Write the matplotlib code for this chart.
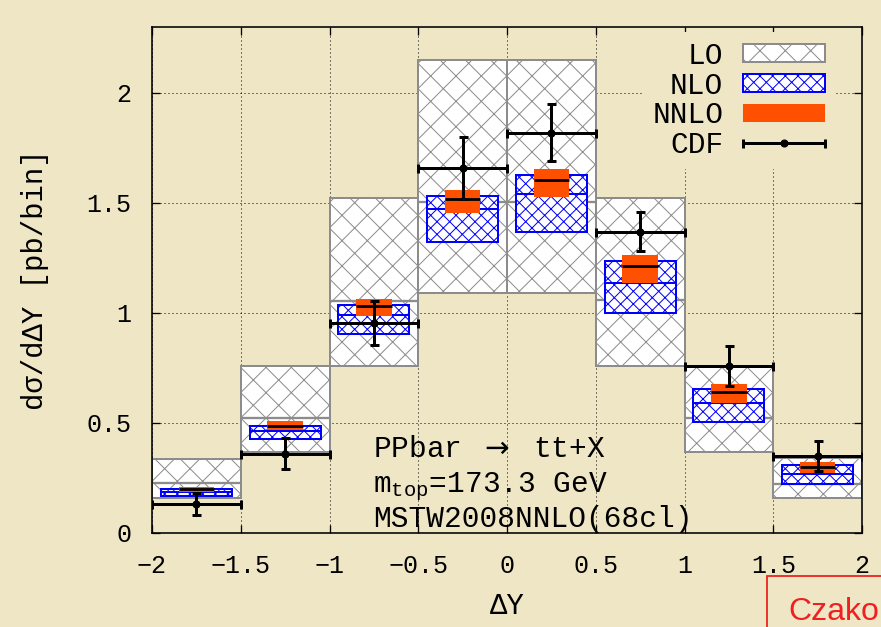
import matplotlib
matplotlib.use("Agg")
import numpy as np
import matplotlib.pyplot as plt
from matplotlib.patches import Rectangle
from matplotlib.legend_handler import HandlerErrorbar
from matplotlib.container import ErrorbarContainer

# bins in Delta Y
edges = [-2.0, -1.5, -1.0, -0.5, 0.0, 0.5, 1.0, 1.5, 2.0]

# LO band (hi / central / lo) in pb/bin
lo_hi = [0.336, 0.759, 1.521, 2.150, 2.150, 1.521, 0.759, 0.339]
lo_c = [0.229, 0.524, 1.056, 1.503, 1.503, 1.059, 0.521, 0.221]
lo_lo = [0.158, 0.367, 0.760, 1.090, 1.090, 0.760, 0.370, 0.158]

# NLO band
nlo_hi = [0.199, 0.488, 1.036, 1.532, 1.627, 1.236, 0.655, 0.309]
nlo_c = [0.185, 0.465, 0.990, 1.471, 1.539, 1.138, 0.590, 0.267]
nlo_lo = [0.166, 0.426, 0.905, 1.324, 1.368, 1.000, 0.503, 0.223]

# NNLO band
nnlo_hi = [0.210, 0.508, 1.062, 1.559, 1.655, 1.264, 0.677, 0.324]
nnlo_c = [0.199, 0.488, 1.032, 1.518, 1.605, 1.215, 0.639, 0.299]
nnlo_lo = [0.185, 0.468, 0.988, 1.456, 1.526, 1.135, 0.589, 0.274]

# CDF measurement
cdf = [0.130, 0.360, 0.953, 1.658, 1.820, 1.370, 0.759, 0.350]
cdf_err = [0.05, 0.07, 0.10, 0.14, 0.13, 0.09, 0.09, 0.07]

xticks = [-2, -1.5, -1, -0.5, 0, 0.5, 1, 1.5, 2]
xtick_labels = ["\u22122", "\u22121.5", "\u22121", "\u22120.5", "0", "0.5", "1", "1.5", "2"]
yticks = [0, 0.5, 1, 1.5, 2]
ytick_labels = ["0", "0.5", "1", "1.5", "2"]

info_lines = ["PPbar $\\rightarrow$ tt+X", "m$\\mathregular{_{top}}$=173.3 GeV",
              "MSTW2008NNLO(68cl)"]

paper = "#efe6c6"
gray = "#8c8c8c"
orange = "#ff5000"
blue = "#0000ff"
stamp = "#f02020"

# hatch tile is one inch, so dpi sets the hatch spacing; sizes are given in pixels
DPI = 76


def px(n):
    return n * 72.0 / DPI


plt.rcParams["font.family"] = ["Liberation Mono", "DejaVu Sans Mono"]
plt.rcParams["mathtext.fontset"] = "custom"
plt.rcParams["hatch.linewidth"] = px(1.0)

fig = plt.figure(figsize=(881 / DPI, 627 / DPI), dpi=DPI, facecolor=paper)
ax = fig.add_axes([152 / 881, 1 - 533 / 627, 710 / 881, 506 / 627])
ax.set_facecolor("none")
ax.set_axisbelow(True)

e = np.array(edges)
left, right = e[:-1], e[1:]
ctr = (left + right) / 2
w = right - left

lo_hi, lo_c, lo_lo = map(np.array, (lo_hi, lo_c, lo_lo))
nlo_hi, nlo_c, nlo_lo = map(np.array, (nlo_hi, nlo_c, nlo_lo))
nnlo_hi, nnlo_c, nnlo_lo = map(np.array, (nnlo_hi, nnlo_c, nnlo_lo))

# LO: full-width grey cross-hatched boxes
lo_bars = ax.bar(ctr, lo_hi - lo_lo, bottom=lo_lo, width=w, facecolor="white",
                 edgecolor=gray, hatch="x", linewidth=px(2), label="LO", zorder=2)
ax.hlines(lo_c, left, right, colors=gray, linewidth=px(2.3), zorder=2.1)

# NLO: narrower blue boxes
nlo_bars = ax.bar(ctr, nlo_hi - nlo_lo, bottom=nlo_lo, width=w - 0.1, facecolor="white",
                  edgecolor=blue, hatch="xx", linewidth=px(2), label="NLO", zorder=3)
ax.hlines(nlo_c, left + 0.05, right - 0.05, colors=blue, linewidth=px(2), zorder=3.1)

# NNLO: solid orange
nnlo_bars = ax.bar(ctr, nnlo_hi - nnlo_lo, bottom=nnlo_lo, width=w - 0.3, color=orange,
                   linewidth=0, label="NNLO", zorder=4)
ax.hlines(nnlo_c, left + 0.15, right - 0.15, colors="black", linewidth=px(2.8), zorder=4.1)

# CDF data with bin-width horizontal bars
cdf_bar = ax.errorbar(ctr, cdf, xerr=w / 2, yerr=cdf_err, fmt="o", color="black",
                      markersize=px(7), elinewidth=px(3), capsize=px(4.5), capthick=px(3),
                      zorder=5)
# legend entry shows only the horizontal bar
data_line, caplines, barcols = cdf_bar.lines
cdf_key = ErrorbarContainer((data_line, caplines, barcols), has_xerr=True,
                            has_yerr=False, label="CDF")

ax.set_xlim(-2, 2)
ax.set_ylim(0, 2.3)
ax.set_xticks(xticks)
ax.set_xticklabels(xtick_labels)
ax.set_yticks(yticks)
ax.set_yticklabels(ytick_labels)
ax.tick_params(direction="in", length=px(8), width=px(1.3), top=True, right=True,
               labelsize=px(25), colors="black", pad=px(21))
ax.tick_params(axis="y", pad=px(21))
for s in ax.spines.values():
    s.set_linewidth(px(1.6))
ax.grid(True, linestyle=(0, (1, 3)), color="black", linewidth=px(1.0))

ax.set_xlabel("\u0394Y", fontsize=px(29), va="center")
ax.xaxis.set_label_coords(0.5, -0.145)
ax.set_ylabel("d\u03c3/d\u0394Y [pb/bin]", fontsize=px(29), va="center")
ax.yaxis.set_label_coords(-0.165, 0.5)

for i, line in enumerate(info_lines):
    ax.text(-0.755, 0.347 - i * 0.16, line, fontsize=px(29.5), va="baseline",
            ha="left", zorder=6)

leg = ax.legend(handles=[lo_bars, nlo_bars, nnlo_bars, cdf_key], loc="upper right",
                bbox_to_anchor=((835 - 152) / 710, 0.99), borderaxespad=0,
                markerfirst=False, fontsize=px(29.5), handlelength=2.78, handleheight=0.55,
                handletextpad=0.68, labelspacing=0.06, borderpad=0.33,
                frameon=True, facecolor=paper, edgecolor="none", framealpha=1,
                fancybox=False,
                handler_map={cdf_key: HandlerErrorbar(xerr_size=1.39, numpoints=1)})
leg.set_zorder(7)

# stamp box in the lower right corner
fig.patches.append(Rectangle((767 / 881, -0.1), 0.3, 0.1 + (627 - 576) / 627,
                             transform=fig.transFigure, fill=False,
                             edgecolor=stamp, linewidth=px(1.8)))
fig.text(788 / 881, 1 - 620 / 627, "Czako", color=stamp, fontsize=px(32),
         family="Liberation Sans", va="baseline", ha="left")

fig.savefig("out.png", dpi=DPI, facecolor=paper)
